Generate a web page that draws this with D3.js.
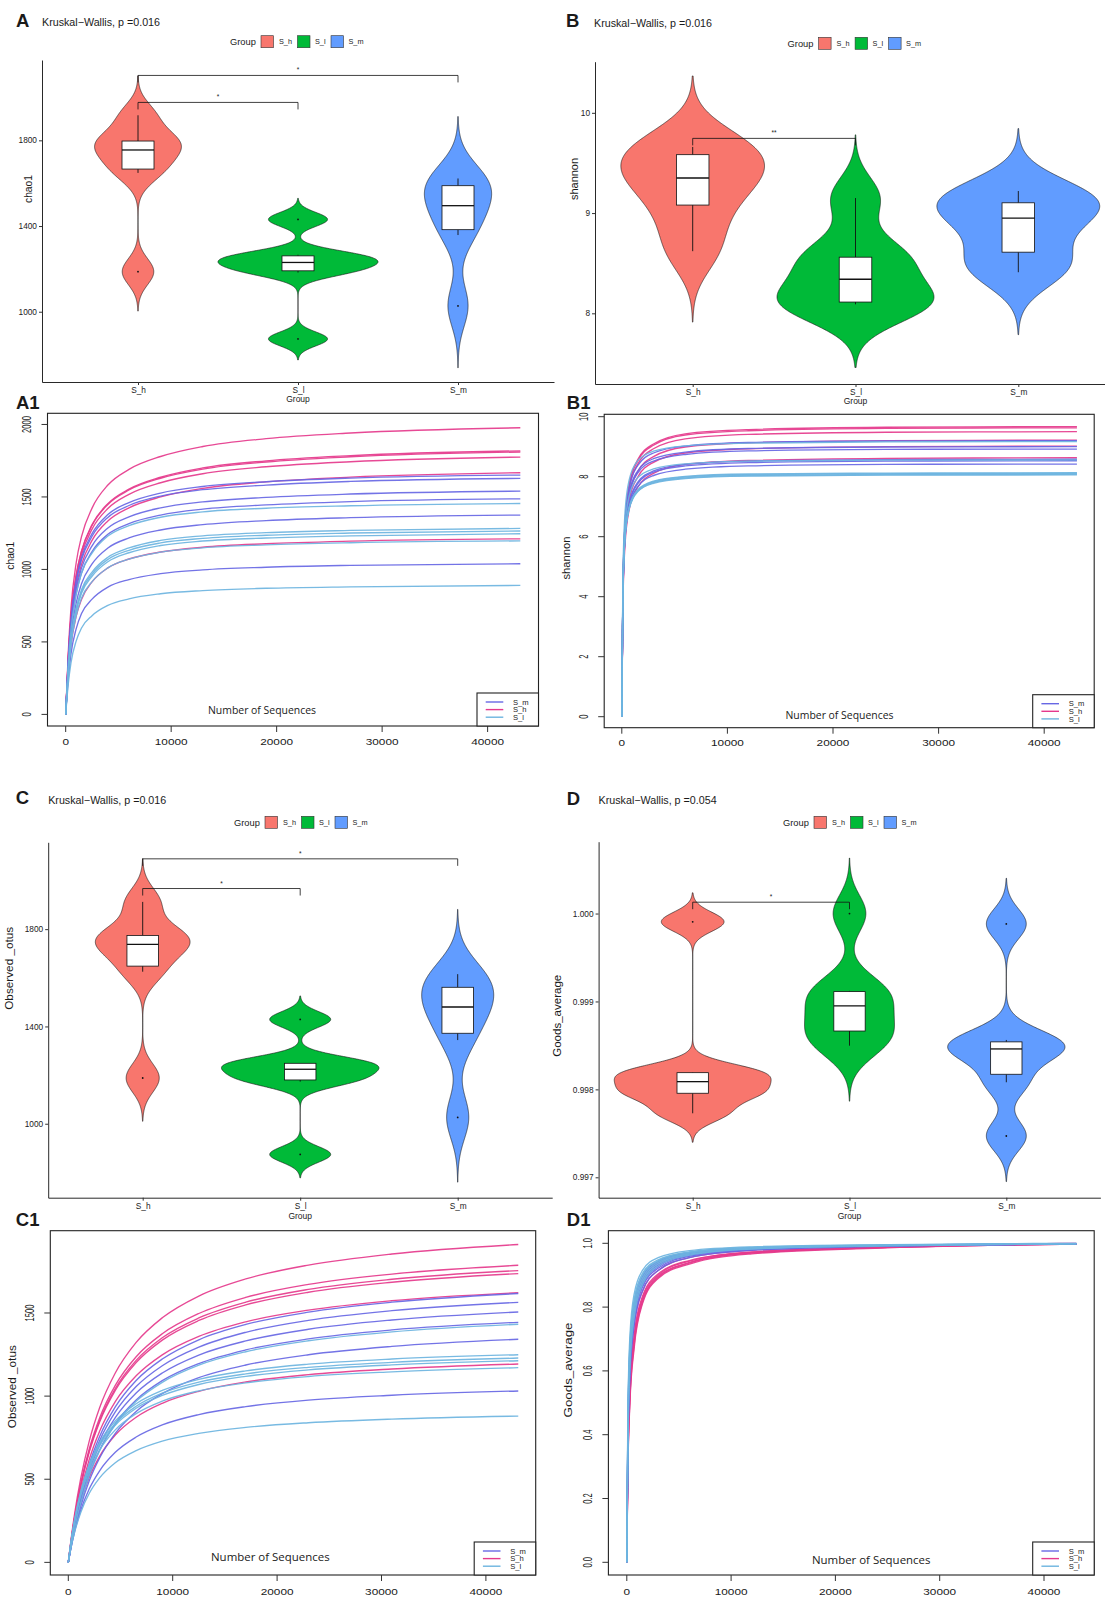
<!DOCTYPE html>
<html>
<head>
<meta charset="utf-8">
<script src="https://cdn.jsdelivr.net/npm/d3@7"></script>
<style>
  body { margin: 0; background: #fff; }
  svg text { font-family: "Liberation Sans", Arial, sans-serif; fill: #1a1a1a; }
</style>
</head>
<body>
<div id="fig"></div>
<script>

// groups and colours
var groups = ["S_h", "S_l", "S_m"];
var groupColors = ["#F8766D", "#00BA38", "#619CFF"];
var rareNames = ["S_m", "S_h", "S_l"];
var rareColors = ["#6767e4", "#e5398c", "#6db4df"];

// per-sample alpha diversity (violin panels)
var chao1_S_h = [1187, 1648, 1720, 1790, 1799, 1917];
var chao1_S_l = [873, 1183, 1215, 1245, 1266, 1431];
var chao1_S_m = [1027, 1358, 1458, 1532, 1607, 1622];

var shannon_S_h = [8.62, 9.00, 9.32, 9.38, 9.65, 9.66];
var shannon_S_l = [8.09, 8.10, 8.15, 8.53, 8.57, 9.15];
var shannon_S_m = [8.41, 8.53, 8.85, 9.05, 9.12, 9.22];

var otus_S_h = [1188, 1625, 1717, 1757, 1780, 1912];
var otus_S_l = [874, 1173, 1201, 1247, 1249, 1429];
var otus_S_m = [1026, 1344, 1456, 1504, 1580, 1615];

var goods_S_h = [0.997728, 0.997941, 0.998001, 0.998175, 0.998195, 0.999906];
var goods_S_l = [0.998497, 0.998615, 0.998810, 0.999088, 0.999120, 1.000000];
var goods_S_m = [0.997470, 0.998081, 0.998445, 0.998475, 0.998562, 0.999882];

// pairwise tests: [group a, group b, bracket height, label]
var chao1_tests = [["S_h", "S_m", 2103, "*"], ["S_h", "S_l", 1977, "*"]];
var shannon_tests = [["S_h", "S_l", 9.745, "**"]];
var otus_tests = [["S_h", "S_m", 2089, "*"], ["S_h", "S_l", 1967, "*"]];
var goods_tests = [["S_h", "S_l", 1.000129, "*"]];

// tick labels
var chao1_ticks = [1000, 1400, 1800];
var shannon_ticks = [8, 9, 10];
var otus_ticks = [1000, 1400, 1800];
var goods_ticks = [0.997, 0.998, 0.999, 1.000];

// rarefaction curves, one row per sample, values at the depths listed
var depth_chao1 = [0, 250, 500, 1000, 1500, 2500, 4000, 6000, 9000, 13000, 19000, 27000, 43100];
var rare_chao1_S_h = [
  [0, 435, 731, 1048, 1226, 1423, 1582, 1690, 1779, 1848, 1902, 1941, 1977],
  [0, 400, 673, 964, 1127, 1309, 1454, 1554, 1636, 1700, 1749, 1785, 1818],
  [0, 398, 670, 959, 1122, 1303, 1448, 1548, 1629, 1692, 1741, 1777, 1810],
  [0, 391, 657, 941, 1101, 1278, 1420, 1518, 1598, 1660, 1708, 1743, 1775],
  [0, 367, 617, 884, 1034, 1200, 1334, 1425, 1500, 1559, 1604, 1637, 1667],
  [0, 279, 472, 678, 793, 914, 1011, 1072, 1120, 1153, 1177, 1195, 1211]
];
var rare_chao1_S_m = [
  [0, 380, 644, 925, 1081, 1247, 1379, 1461, 1527, 1572, 1605, 1630, 1651],
  [0, 374, 635, 912, 1066, 1229, 1359, 1441, 1506, 1550, 1582, 1607, 1628],
  [0, 354, 601, 862, 1009, 1163, 1286, 1363, 1425, 1466, 1497, 1520, 1540],
  [0, 342, 580, 833, 974, 1123, 1242, 1316, 1375, 1416, 1445, 1468, 1487],
  [0, 316, 536, 770, 901, 1038, 1148, 1217, 1272, 1309, 1337, 1357, 1375],
  [0, 249, 416, 592, 696, 795, 878, 930, 971, 997, 1015, 1028, 1039]
];
var rare_chao1_S_l = [
  [0, 349, 582, 829, 975, 1113, 1230, 1302, 1360, 1397, 1422, 1439, 1455],
  [0, 308, 513, 731, 860, 982, 1084, 1148, 1200, 1232, 1254, 1269, 1283],
  [0, 304, 506, 721, 848, 968, 1069, 1132, 1183, 1214, 1236, 1251, 1265],
  [0, 299, 498, 710, 835, 953, 1053, 1115, 1165, 1196, 1217, 1232, 1246],
  [0, 287, 479, 682, 802, 916, 1011, 1071, 1119, 1149, 1169, 1184, 1197],
  [0, 214, 356, 507, 596, 681, 752, 797, 832, 854, 870, 880, 890]
];

var depth_shannon = [0, 100, 300, 700, 1500, 3000, 6000, 12000, 25000, 43100];
var rare_shannon_S_h = [
  [0, 4.06, 6.38, 7.74, 8.56, 9.09, 9.43, 9.57, 9.65, 9.67],
  [0, 4.04, 6.36, 7.70, 8.52, 9.05, 9.39, 9.53, 9.61, 9.63],
  [0, 3.99, 6.27, 7.60, 8.41, 8.93, 9.26, 9.41, 9.48, 9.50],
  [0, 3.87, 6.09, 7.38, 8.16, 8.67, 8.99, 9.13, 9.20, 9.22],
  [0, 3.79, 5.95, 7.22, 7.98, 8.48, 8.79, 8.93, 9.00, 9.02],
  [0, 3.62, 5.70, 6.90, 7.64, 8.11, 8.41, 8.54, 8.61, 8.63]
];
var rare_shannon_S_m = [
  [0, 4.23, 6.44, 7.64, 8.37, 8.79, 9.02, 9.14, 9.19, 9.20],
  [0, 4.14, 6.30, 7.47, 8.19, 8.60, 8.82, 8.94, 8.99, 9.00],
  [0, 4.10, 6.24, 7.40, 8.12, 8.52, 8.74, 8.86, 8.91, 8.92],
  [0, 3.95, 6.01, 7.12, 7.81, 8.19, 8.41, 8.52, 8.57, 8.58],
  [0, 3.92, 5.97, 7.08, 7.76, 8.15, 8.36, 8.47, 8.52, 8.53],
  [0, 3.87, 5.89, 6.99, 7.66, 8.04, 8.25, 8.36, 8.41, 8.42]
];
var rare_shannon_S_l = [
  [0, 4.59, 6.79, 7.89, 8.53, 8.85, 9.03, 9.12, 9.16, 9.17],
  [0, 4.28, 6.33, 7.36, 7.96, 8.26, 8.43, 8.52, 8.55, 8.56],
  [0, 4.07, 6.02, 6.99, 7.56, 7.85, 8.01, 8.09, 8.12, 8.13],
  [0, 4.06, 6.00, 6.97, 7.54, 7.83, 7.99, 8.07, 8.10, 8.11],
  [0, 4.04, 5.98, 6.95, 7.51, 7.80, 7.96, 8.04, 8.07, 8.08],
  [0, 4.03, 5.96, 6.93, 7.50, 7.78, 7.94, 8.02, 8.05, 8.06]
];

var depth_otus = [0, 250, 600, 1200, 2000, 3000, 4500, 6500, 9000, 12500, 17000, 23000, 31000, 43100];
var rare_otus_S_h = [
  [0, 131, 290, 508, 728, 930, 1139, 1323, 1471, 1602, 1705, 1788, 1855, 1912],
  [0, 123, 271, 475, 681, 869, 1065, 1237, 1375, 1497, 1594, 1672, 1734, 1787],
  [0, 121, 266, 467, 669, 853, 1046, 1215, 1351, 1470, 1565, 1642, 1703, 1755],
  [0, 119, 263, 462, 662, 845, 1035, 1202, 1337, 1455, 1549, 1625, 1685, 1737],
  [0, 111, 246, 431, 618, 789, 967, 1122, 1248, 1359, 1447, 1517, 1574, 1622],
  [0, 98, 213, 365, 510, 638, 766, 873, 957, 1029, 1085, 1129, 1163, 1193]
];
var rare_otus_S_m = [
  [0, 104, 230, 408, 589, 757, 935, 1094, 1223, 1339, 1431, 1505, 1565, 1617],
  [0, 101, 223, 394, 570, 732, 905, 1058, 1183, 1295, 1384, 1456, 1514, 1564],
  [0, 97, 215, 380, 549, 705, 871, 1019, 1139, 1247, 1332, 1402, 1458, 1506],
  [0, 93, 206, 364, 526, 676, 835, 977, 1093, 1196, 1278, 1344, 1398, 1444],
  [0, 86, 191, 338, 489, 628, 776, 908, 1015, 1111, 1187, 1249, 1299, 1342],
  [0, 85, 184, 315, 441, 551, 662, 754, 827, 889, 937, 976, 1005, 1031]
];
var rare_otus_S_l = [
  [0, 92, 204, 361, 522, 671, 828, 969, 1083, 1186, 1267, 1333, 1386, 1432],
  [0, 120, 256, 429, 587, 721, 850, 954, 1034, 1101, 1152, 1192, 1223, 1249],
  [0, 118, 252, 422, 578, 709, 836, 939, 1018, 1084, 1134, 1173, 1203, 1229],
  [0, 117, 248, 416, 570, 700, 825, 927, 1004, 1070, 1119, 1158, 1188, 1213],
  [0, 113, 240, 402, 551, 676, 797, 895, 970, 1032, 1080, 1118, 1146, 1171],
  [0, 85, 180, 302, 414, 508, 599, 672, 729, 776, 812, 840, 862, 880]
];

var depth_goods = [0, 100, 300, 700, 1500, 3000, 6000, 12000, 25000, 43100];
var rare_goods_S_h = [
  [0, .28, .50, .67, .81, .89, .935, .967, .986, .9977],
  [0, .29, .51, .68, .815, .893, .938, .969, .987, .9979],
  [0, .30, .52, .69, .82, .896, .94, .97, .987, .998],
  [0, .31, .535, .70, .827, .90, .944, .972, .988, .9982],
  [0, .32, .55, .71, .833, .904, .946, .973, .989, .9982],
  [0, .35, .58, .74, .85, .915, .955, .978, .991, .9999]
];
var rare_goods_S_m = [
  [0, .34, .58, .74, .85, .915, .955, .978, .991, .9975],
  [0, .36, .60, .755, .862, .922, .959, .98, .992, .9981],
  [0, .37, .61, .765, .868, .927, .962, .981, .992, .9984],
  [0, .38, .625, .775, .875, .932, .965, .983, .993, .9985],
  [0, .40, .645, .79, .885, .938, .968, .984, .993, .9986],
  [0, .42, .665, .805, .895, .943, .971, .986, .994, .9999]
];
var rare_goods_S_l = [
  [0, .37, .61, .765, .87, .929, .963, .982, .992, .9985],
  [0, .39, .635, .785, .88, .935, .966, .983, .993, .9986],
  [0, .41, .655, .80, .89, .94, .969, .985, .994, .9988],
  [0, .43, .675, .815, .90, .945, .972, .986, .994, .9991],
  [0, .44, .685, .822, .905, .948, .973, .987, .995, .9991],
  [0, .47, .71, .84, .915, .955, .977, .989, .996, 1.0]
];


var svg = d3.select("#fig")
    .append("svg")
    .attr("width", 1105)
    .attr("height", 1603);

// small text helper
function txt(g, s, x, y, size, opt) {
    opt = opt || {};
    var t = g.append("text")
        .attr("x", x).attr("y", y)
        .style("font-size", size + "px")
        .attr("text-anchor", opt.anchor || "start")
        .text(s);
    if (opt.bold) t.style("font-weight", "bold");
    if (opt.len) t.attr("textLength", opt.len).attr("lengthAdjust", "spacingAndGlyphs");
    if (opt.family) t.style("font-family", opt.family);
    return t;
}

function rotTxt(g, s, cx, cy, size, len) {
    var t = g.append("text")
        .attr("transform", "translate(" + cx + "," + cy + ") rotate(-90)")
        .attr("dy", "0.35em")
        .attr("text-anchor", "middle")
        .style("font-size", size + "px")
        .text(s);
    if (len) t.attr("textLength", len).attr("lengthAdjust", "spacingAndGlyphs");
    return t;
}


//violin + box panels
function violinPanel(p) {
    var g = svg.append("g");

    var x = d3.scalePoint().domain(groups).range([p.left, p.right]).padding(0.6);
    var y = d3.scaleLinear().domain(p.yDomain).range([p.bottom, p.top]);
    var step = x.step();

    var stats = p.data.map(function (vals, i) {
        var s = vals.slice().sort(d3.ascending);
        var q1 = d3.quantile(s, 0.25), med = d3.quantile(s, 0.5), q3 = d3.quantile(s, 0.75);
        var iqr = q3 - q1;
        var bw = 0.9 * Math.min(d3.deviation(s), iqr / 1.34) * Math.pow(s.length, -0.2);
        var lo = s[0] - 3 * bw, hi = s[s.length - 1] + 3 * bw;
        var dens = d3.range(512).map(function (k) {
            var v = lo + (hi - lo) * k / 511;
            var d = d3.sum(s, function (o) { var z = (v - o) / bw; return Math.exp(-0.5 * z * z); });
            return { v: v, d: d / (s.length * bw * Math.sqrt(2 * Math.PI)) };
        });
        var inRange = function (o) { return o >= q1 - 1.5 * iqr && o <= q3 + 1.5 * iqr; };
        return {
            group: groups[i], color: groupColors[i], q1: q1, med: med, q3: q3,
            wLo: d3.min(s.filter(inRange)), wHi: d3.max(s.filter(inRange)),
            out: s.filter(function (o) { return !inRange(o); }), dens: dens
        };
    });

    var maxD = d3.max(stats, function (st) { return d3.max(st.dens, function (d) { return d.d; }); });
    var hw = d3.scaleLinear().domain([0, maxD]).range([0, step / 2]);
    var boxW = 0.2 * step;

    stats.forEach(function (st) {
        var cx = x(st.group);
        var area = d3.area()
            .y(function (d) { return y(d.v); })
            .x0(function (d) { return cx - hw(d.d); })
            .x1(function (d) { return cx + hw(d.d); });
        g.append("path").attr("d", area(st.dens))
            .attr("fill", st.color).attr("stroke", "#111").attr("stroke-width", 0.6);

        g.append("line").attr("x1", cx).attr("x2", cx).attr("y1", y(st.q3)).attr("y2", y(st.wHi))
            .attr("stroke", "#111").attr("stroke-width", 0.9);
        g.append("line").attr("x1", cx).attr("x2", cx).attr("y1", y(st.q1)).attr("y2", y(st.wLo))
            .attr("stroke", "#111").attr("stroke-width", 0.9);
        g.append("rect").attr("x", cx - boxW / 2).attr("width", boxW)
            .attr("y", y(st.q3)).attr("height", y(st.q1) - y(st.q3))
            .attr("fill", "#fff").attr("stroke", "#111").attr("stroke-width", 0.8);
        g.append("line").attr("x1", cx - boxW / 2).attr("x2", cx + boxW / 2)
            .attr("y1", y(st.med)).attr("y2", y(st.med))
            .attr("stroke", "#111").attr("stroke-width", 1.3);
        g.selectAll(null).data(st.out).enter().append("circle")
            .attr("cx", cx).attr("cy", function (d) { return y(d); }).attr("r", 0.9)
            .attr("fill", "#111");
    });

    // significance brackets
    p.tests.forEach(function (t) {
        var xa = x(t[0]), xb = x(t[1]), yy = y(t[2]);
        g.append("path")
            .attr("d", "M" + xa + "," + (yy + 7) + "V" + yy + "H" + xb + "V" + (yy + 7))
            .attr("fill", "none").attr("stroke", "#111").attr("stroke-width", 0.8);
        txt(g, t[3], (xa + xb) / 2, yy - 3, 6.5, { anchor: "middle" });
    });

    // axes
    var ax = g.append("g").attr("transform", "translate(0," + p.bottom + ")")
        .call(d3.axisBottom(x).tickSize(3).tickSizeOuter(0).tickPadding(2));
    var ay = g.append("g").attr("transform", "translate(" + p.left + ",0)")
        .call(d3.axisLeft(y).tickValues(p.ticks).tickFormat(p.fmt).tickSize(3).tickSizeOuter(0).tickPadding(2));
    [ax, ay].forEach(function (a) {
        a.select(".domain").attr("stroke", "#111").attr("stroke-width", 0.9);
        a.selectAll(".tick line").attr("stroke", "#333");
        a.selectAll("text").style("font-size", "8.3px")
            .style("font-family", "'Liberation Sans', Arial, sans-serif").attr("fill", "#222");
    });

    txt(g, "Group", x("S_l"), p.groupY, 8.5, { anchor: "middle" });
    rotTxt(g, p.title, p.titleX, p.titleY, 11, p.titleLen);

    // panel letter and test
    txt(g, p.label, p.labelX, p.labelY, 18.5, { bold: true });
    txt(g, p.sub, p.subX, p.subY, 10.5, { len: 118 });

    // legend
    var lg = g.append("g").attr("transform", "translate(" + p.legX + "," + p.legY + ")");
    txt(lg, "Group", 0, 3.3, 9.3);
    var keyX = [31, 67.5, 101], labX = [49, 85, 118.5];
    groups.forEach(function (gr, i) {
        lg.append("rect").attr("x", keyX[i]).attr("y", -6).attr("width", 12.5).attr("height", 12)
            .attr("fill", groupColors[i]).attr("stroke", "#333").attr("stroke-width", 0.6);
        txt(lg, gr, labX[i], 2.6, 7.3);
    });
}


//rarefaction panels
function rarePanel(p) {
    var g = svg.append("g");
    var x = d3.scaleLinear().domain(p.xDomain).range([p.l, p.r]);
    var y = d3.scaleLinear().domain(p.yDomain).range([p.b, p.t]);

    var line = d3.line()
        .x(function (d) { return x(d[0]); })
        .y(function (d) { return y(d[1]); })
        .curve(d3.curveMonotoneX);

    p.series.forEach(function (ser) {
        g.append("g").selectAll("path")
            .data(ser.rows)
            .enter()
            .append("path")
            .attr("d", function (row) {
                return line(p.depth.map(function (dp, k) { return [dp, row[k]]; }));
            })
            .attr("fill", "none")
            .attr("stroke", ser.color)
            .attr("stroke-width", 1.35)
            .style("opacity", 0.92);
    });

    // frame
    g.append("rect").attr("x", p.l).attr("y", p.t)
        .attr("width", p.r - p.l).attr("height", p.b - p.t)
        .attr("fill", "none").attr("stroke", "#222").attr("stroke-width", 1.1);

    // y ticks (labels parallel to the axis)
    var yt = g.append("g").selectAll("g").data(p.yTicks).enter().append("g");
    yt.append("line").attr("x1", p.l).attr("x2", p.l - 6)
        .attr("y1", function (d) { return y(d); }).attr("y2", function (d) { return y(d); })
        .attr("stroke", "#333");
    yt.append("text")
        .attr("transform", function (d) {
            return "translate(" + (p.l - 21) + "," + y(d) + ") rotate(-90) scale(0.8,1.4)";
        })
        .attr("dy", "0.35em").attr("text-anchor", "middle")
        .style("font-size", "9.5px")
        .text(p.yFmt);

    // x ticks
    var xt = g.append("g").selectAll("g").data([0, 10000, 20000, 30000, 40000]).enter().append("g");
    xt.append("line").attr("y1", p.b).attr("y2", p.b + 6)
        .attr("x1", function (d) { return x(d); }).attr("x2", function (d) { return x(d); })
        .attr("stroke", "#333");
    xt.append("text")
        .attr("transform", function (d) {
            return "translate(" + x(d) + "," + (p.b + p.xLabDy) + ") scale(1.27,1)";
        })
        .attr("text-anchor", "middle")
        .style("font-size", "9.3px")
        .text(function (d) { return d; });

    rotTxt(g, p.title, p.titleX, p.titleY, 11.5, p.titleLen);
    txt(g, "Number of Sequences", p.nsX, p.nsY, 11, { anchor: "middle", len: p.nsLen, family: "'Open Sans', sans-serif" });
    txt(g, p.label, p.labelX, p.labelY, 18.5, { bold: true });

    // legend box
    var lx = p.r - 61.5, ly = p.b - 33;
    g.append("rect").attr("x", lx).attr("y", ly).attr("width", 61.5).attr("height", 33)
        .attr("fill", "#fff").attr("stroke", "#222").attr("stroke-width", 1.1);
    rareNames.forEach(function (nm, i) {
        var ry = ly + 9 + i * 7.6;
        g.append("line").attr("x1", lx + 8.7).attr("x2", lx + 26.3).attr("y1", ry).attr("y2", ry)
            .attr("stroke", rareColors[i]).attr("stroke-width", 1.4);
        txt(g, nm, lx + 36, ry + 2.7, 7.6);
    });
}


violinPanel({
    data: [chao1_S_h, chao1_S_l, chao1_S_m], tests: chao1_tests, ticks: chao1_ticks, fmt: d3.format("d"),
    left: 42, right: 554, top: 60, bottom: 382, yDomain: [672, 2175],
    title: "chao1", titleX: 27.7, titleY: 189, titleLen: 28,
    label: "A", labelX: 16, labelY: 27, sub: "Kruskal\u2212Wallis, p =0.016", subX: 42, subY: 25.5,
    legX: 230, legY: 41.7, groupY: 402
});
violinPanel({
    data: [shannon_S_h, shannon_S_l, shannon_S_m], tests: shannon_tests, ticks: shannon_ticks, fmt: d3.format("d"),
    left: 595, right: 1116, top: 61.7, bottom: 384, yDomain: [7.295, 10.51],
    title: "shannon", titleX: 574.4, titleY: 179, titleLen: 42,
    label: "B", labelX: 566, labelY: 27, sub: "Kruskal\u2212Wallis, p =0.016", subX: 594, subY: 27,
    legX: 787.6, legY: 43.3, groupY: 404
});
violinPanel({
    data: [otus_S_h, otus_S_l, otus_S_m], tests: otus_tests, ticks: otus_ticks, fmt: d3.format("d"),
    left: 48.2, right: 552.2, top: 842.3, bottom: 1197.7, yDomain: [696, 2157],
    title: "Observed _otus", titleX: 8.8, titleY: 968.3, titleLen: 83,
    label: "C", labelX: 15.8, labelY: 804, sub: "Kruskal\u2212Wallis, p =0.016", subX: 48.2, subY: 803.5,
    legX: 234, legY: 822.3, groupY: 1219
});
violinPanel({
    data: [goods_S_h, goods_S_l, goods_S_m], tests: goods_tests, ticks: goods_ticks, fmt: d3.format(".3f"),
    left: 598.6, right: 1100.4, top: 841.7, bottom: 1197.7, yDomain: [0.996768, 1.000817],
    title: "Goods_average", titleX: 557.3, titleY: 1015.8, titleLen: 82,
    label: "D", labelX: 566.8, labelY: 805, sub: "Kruskal\u2212Wallis, p =0.054", subX: 598.6, subY: 803.5,
    legX: 783, legY: 822.3, groupY: 1219
});

rarePanel({
    depth: depth_chao1,
    series: [
        { rows: rare_chao1_S_h, color: rareColors[1] },
        { rows: rare_chao1_S_m, color: rareColors[0] },
        { rows: rare_chao1_S_l, color: rareColors[2] }
    ],
    l: 47.5, r: 538.5, t: 413.3, b: 726, xDomain: [-1724, 44824], yDomain: [-80, 2077],
    yTicks: [0, 500, 1000, 1500, 2000], yFmt: d3.format("d"), xLabDy: 18.5,
    title: "chao1", titleX: 9.7, titleY: 555.7, titleLen: 28,
    nsX: 262, nsY: 713.5, nsLen: 108, label: "A1", labelX: 16, labelY: 409
});
rarePanel({
    depth: depth_shannon,
    series: [
        { rows: rare_shannon_S_h, color: rareColors[1] },
        { rows: rare_shannon_S_m, color: rareColors[0] },
        { rows: rare_shannon_S_l, color: rareColors[2] }
    ],
    l: 604.2, r: 1094.2, t: 414.3, b: 727.7, xDomain: [-1667, 44735], yDomain: [-0.367, 10.08],
    yTicks: [0, 2, 4, 6, 8, 10], yFmt: d3.format("d"), xLabDy: 18.5,
    title: "shannon", titleX: 566, titleY: 558, titleLen: 43,
    nsX: 839.5, nsY: 719, nsLen: 108, label: "B1", labelX: 566.8, labelY: 409
});
rarePanel({
    depth: depth_otus,
    series: [
        { rows: rare_otus_S_h, color: rareColors[1] },
        { rows: rare_otus_S_m, color: rareColors[0] },
        { rows: rare_otus_S_l, color: rareColors[2] }
    ],
    l: 50.3, r: 535.7, t: 1230.7, b: 1575, xDomain: [-1724, 44770], yDomain: [-76, 1995],
    yTicks: [0, 500, 1000, 1500], yFmt: d3.format("d"), xLabDy: 20,
    title: "Observed _otus", titleX: 12.3, titleY: 1386.7, titleLen: 83,
    nsX: 270.3, nsY: 1561, nsLen: 118.6, label: "C1", labelX: 15.8, labelY: 1226
});
rarePanel({
    depth: depth_goods,
    series: [
        { rows: rare_goods_S_h, color: rareColors[1] },
        { rows: rare_goods_S_m, color: rareColors[0] },
        { rows: rare_goods_S_l, color: rareColors[2] }
    ],
    l: 608.4, r: 1094.2, t: 1230.7, b: 1575, xDomain: [-1764, 44813], yDomain: [-0.0398, 1.0395],
    yTicks: [0, 0.2, 0.4, 0.6, 0.8, 1.0], yFmt: d3.format(".1f"), xLabDy: 20,
    title: "Goods_average", titleX: 568, titleY: 1370, titleLen: 95,
    nsX: 871.2, nsY: 1564, nsLen: 118.5, label: "D1", labelX: 566.8, labelY: 1226
});

</script>
</body>
</html>
